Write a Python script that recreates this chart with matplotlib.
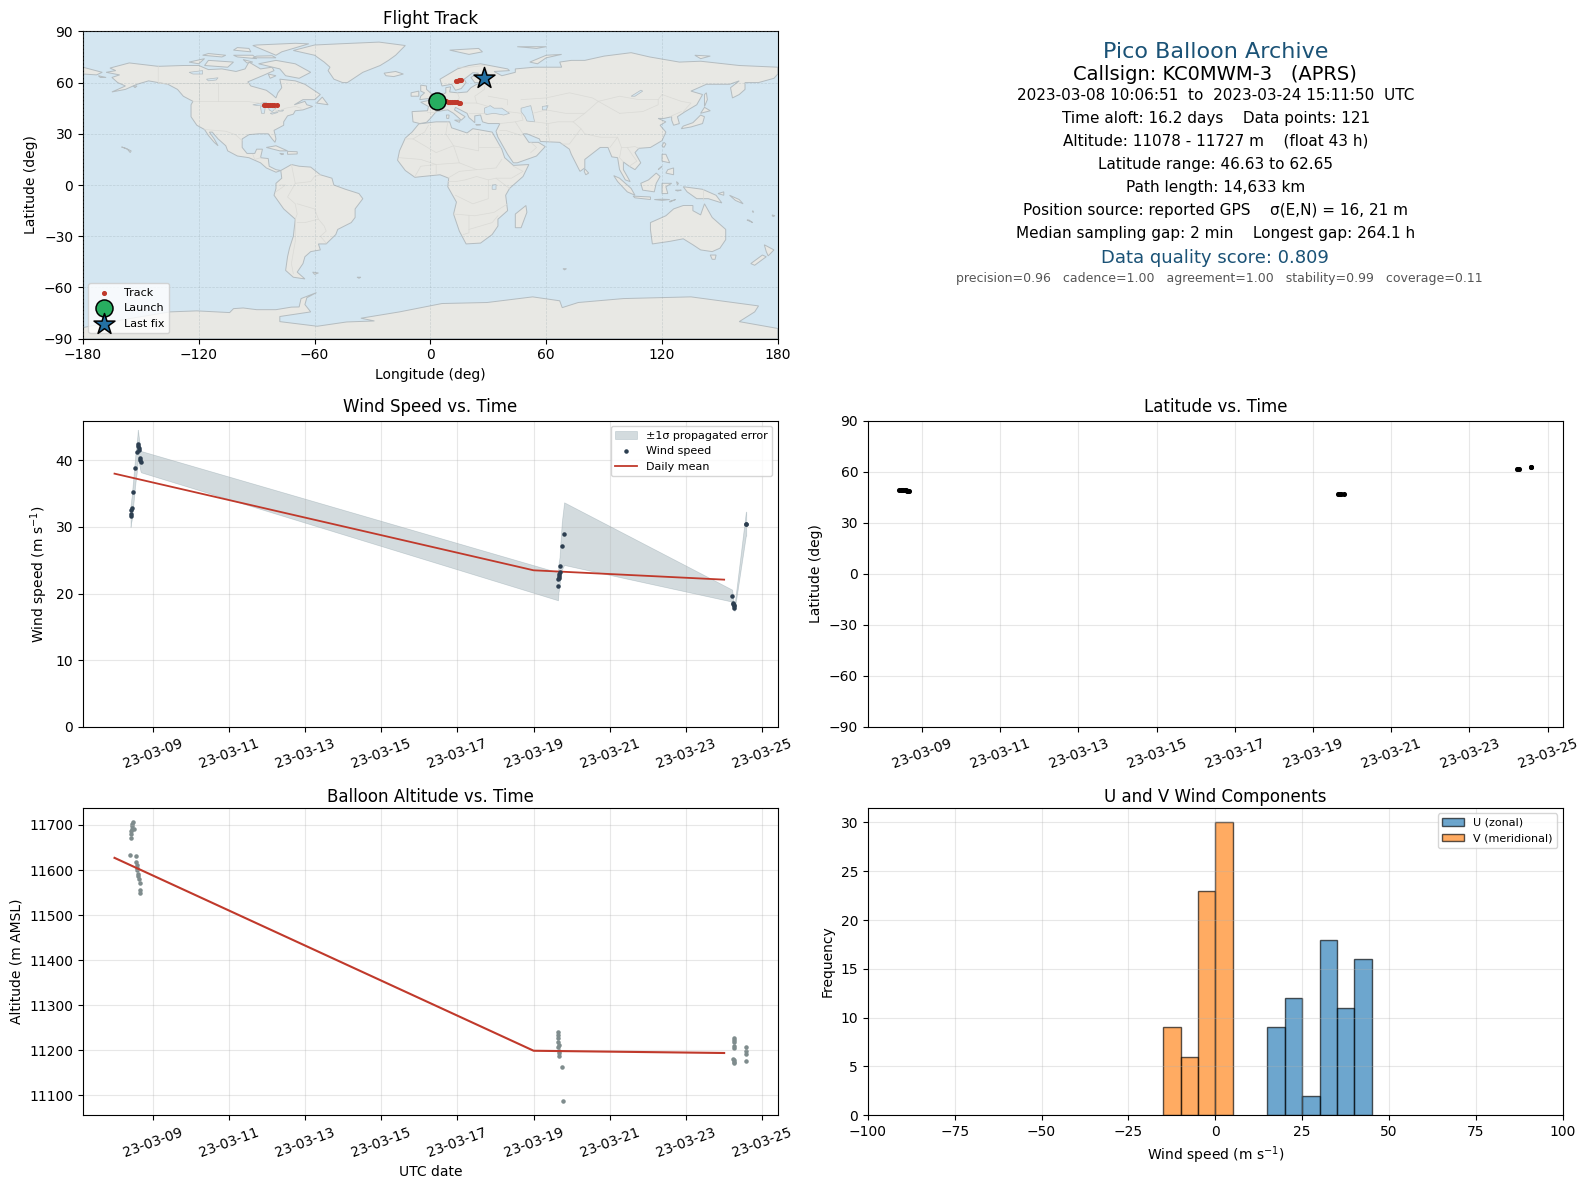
import matplotlib
matplotlib.use('Agg')
import matplotlib.pyplot as plt
import matplotlib.dates as mdates
import numpy as np
import pandas as pd

# day of March 2023 (fractional) for each sample
wind_day = [8.42, 8.43, 8.44, 8.45, 8.49, 8.55, 8.60, 8.61, 8.62, 8.63, 8.64, 8.67, 8.68, 8.695,
            19.64, 19.65, 19.655, 19.66, 19.67, 19.68, 19.69, 19.74, 19.80,
            24.21, 24.24, 24.245, 24.25, 24.26, 24.27, 24.57, 24.58]
wind_speed = [31.6, 32.0, 32.5, 32.8, 35.2, 38.9, 41.3, 42.4, 42.2, 41.8, 41.5, 40.3, 40.0, 39.8,
              21.1, 22.2, 22.4, 22.6, 22.9, 23.3, 24.2, 27.2, 29.0,
              19.7, 18.6, 18.4, 18.3, 18.1, 17.8, 30.5, 30.5]
wind_sigma = [1.6, 1.6, 1.7, 1.8, 2.0, 2.2, 2.4, 2.2, 2.1, 2.0, 1.9, 1.6, 1.6, 1.6,
              2.1, 2.1, 2.1, 2.2, 2.2, 2.2, 2.4, 3.6, 4.7,
              0.9, 0.5, 0.5, 0.4, 0.4, 0.4, 1.8, 1.8]

mean_day = [8.0, 19.0, 24.0]
mean_wind = [38.0, 23.5, 22.1]
mean_alt = [11627, 11199, 11194]

alt_day = [8.42, 8.43, 8.44, 8.45, 8.46, 8.47, 8.48, 8.50, 8.41, 8.57, 8.575, 8.58, 8.59, 8.60, 8.61,
           8.62, 8.64, 8.66, 8.68, 8.68,
           19.64, 19.65, 19.65, 19.64, 19.67, 19.65, 19.67, 19.67, 19.67, 19.74, 19.77,
           24.27, 24.27, 24.27, 24.27, 24.26, 24.24, 24.25, 24.25, 24.26,
           24.58, 24.57, 24.57, 24.58]
altitude = [11672, 11680, 11686, 11692, 11698, 11703, 11707, 11692, 11633, 11631, 11618, 11612, 11605, 11601, 11592,
            11586, 11579, 11572, 11555, 11550,
            11240, 11235, 11227, 11218, 11212, 11207, 11199, 11194, 11188, 11162, 11087,
            11227, 11222, 11218, 11209, 11204, 11181, 11179, 11175, 11171,
            11207, 11199, 11192, 11176]

lat_day = [8.42, 8.45, 8.48, 8.52, 8.55, 8.58, 8.62, 8.65, 8.675,
           19.64, 19.66, 19.68, 19.72, 19.80,
           24.21, 24.24, 24.27, 24.57, 24.58]
latitude = [49.4, 49.4, 49.4, 49.3, 49.2, 49.1, 48.8, 48.6, 48.6,
            46.7, 46.65, 46.63, 46.7, 46.8,
            61.3, 61.4, 61.3, 62.6, 62.65]

track_lon = [4, 6, 8, 9, 10, 11, 12, 13, 14, 15, 15.3,
             -86.4, -85.5, -84.5, -84, -83, -82, -81, -79.6,
             13.4, 14, 14.8, 15.5, 16.1]
track_lat = [49.1, 49.0, 49.0, 48.9, 48.9, 48.8, 48.8, 48.7, 48.5, 48.3, 48.2,
             46.7, 46.6, 46.7, 46.6, 46.7, 46.6, 46.7, 46.6,
             60.9, 61.1, 61.3, 61.5, 61.7]
launch_lon, launch_lat = [3.6], [49.1]
last_lon, last_lat = [27.8], [62.5]

hist_bins = list(range(-100, 105, 5))
u_counts = {15: 9, 20: 12, 25: 2, 30: 18, 35: 11, 40: 16}
v_counts = {-15: 9, -10: 6, -5: 23, 0: 30}

info_lines = [
    ("Pico Balloon Archive", 16, '#1a5276'),
    ("Callsign: KC0MWM-3   (APRS)", 14, 'black'),
    ("2023-03-08 10:06:51  to  2023-03-24 15:11:50  UTC", 11, 'black'),
    ("Time aloft: 16.2 days    Data points: 121", 11, 'black'),
    ("Altitude: 11078 - 11727 m    (float 43 h)", 11, 'black'),
    ("Latitude range: 46.63 to 62.65", 11, 'black'),
    ("Path length: 14,633 km", 11, 'black'),
    ("Position source: reported GPS    \u03c3(E,N) = 16, 21 m", 11, 'black'),
    ("Median sampling gap: 2 min    Longest gap: 264.1 h", 11, 'black'),
    ("Data quality score: 0.809", 13, '#1a5276'),
    ("precision=0.96   cadence=1.00   agreement=1.00   stability=0.99   coverage=0.11", 9, '#555555'),
]
info_y = [51, 74, 94, 117, 139, 163, 185, 208, 231, 255, 275]
info_x = [1202, 1201, 1202, 1202, 1202, 1202, 1202, 1202, 1202, 1201, 1205]

# rough coastlines, lon/lat
land = [
    [(-168,66),(-163,67),(-166,68.5),(-156,71.5),(-141,69.5),(-128,70),(-120,70),(-115,67.6),(-108,68),(-100.7,66.5),(-96,68),(-94,72),(-88,68),(-82,69),(-81,67),(-87,64),(-94.6,60.4),(-93,58),(-85,55.5),(-82,53),(-80,51),(-79,54),(-77,57),(-78,62),(-70,61),(-65,59),(-61,56),(-57,53),(-60,50),(-66,50),(-70.5,47),(-65,49),(-64,47),(-61,46),(-66,44),(-70,43.5),(-71,41.5),(-74,40.5),(-76,37),(-76,35),(-81,32),(-80,27),(-80.5,25),(-82,27),(-84,30),(-89,30),(-94,29.5),(-97.5,27),(-97.5,22),(-95,18.5),(-91,18.5),(-90,21),(-87,21),(-88,16),(-84,15.5),(-83.5,11),(-80,9),(-77.5,8.5),(-80,7.5),(-85,10),(-88,13),(-94,16),(-100,17),(-105,20),(-106,23),(-110,27),(-113,31),(-114.5,31),(-112,27),(-110,23),(-112,25),(-115,29),(-117,32.5),(-121,35),(-124,40),(-124,47),(-123,49),(-128,52),(-131,56),(-136,59),(-146,61),(-152,59),(-158,56),(-165,54.5),(-158,58),(-162,60),(-165,63),(-161,64.5)],
    [(-77.5,8.5),(-72,12),(-68,11),(-62,10.5),(-57,6),(-51,4),(-50,0),(-44,-2.5),(-37,-5),(-35,-8),(-39,-14),(-39,-19),(-41,-22),(-48,-26),(-49,-29),(-54,-34.5),(-58,-34.5),(-57,-38),(-62,-39),(-65,-42),(-66,-46),(-69,-51),(-65,-55),(-71,-54),(-75,-50),(-74,-42),(-73,-37),(-71,-30),(-70,-20),(-76,-14),(-81,-6),(-80,-2),(-80,1),(-77,4)],
    [(-6,35.8),(3,37),(10,37),(11,33.5),(19,30.5),(22,33),(32,31),(32.5,30),(34,27),(37,21),(38.5,16),(43,11.5),(51,12),(48,5),(41,-2),(39,-6),(40,-15),(35,-20),(35,-24),(32,-29),(26,-34),(18.5,-34.5),(15,-27),(12,-17),(13.5,-10),(9,-1),(9.5,4),(5,6),(-4,5),(-8,4.5),(-13,8.5),(-17,14.5),(-16,20),(-13,27.5),(-9.5,31)],
    [(-9,37),(-9.5,43),(-1.5,43.5),(-1,46),(-5,48.5),(1,50),(4,52),(8,54),(8,57),(10.5,57.5),(10,54.5),(14,54),(19,54.5),(21,57),(24,59),(30,60),(23,60),(21,63),(25,65.5),(22,65.8),(17.5,62),(18.5,60),(16,56.5),(13,55.5),(11,59),(6,58),(5,62),(14,68),(20,70),(26,71),(40,68),(41,67),(33,66.5),(37,64),(44,66),(44,68),(54,69),(68,69),(67,72),(73,73),(80,73),(90,75.5),(104,77.5),(113.6,75),(129,72),(140,72.5),(160,70),(180,69),(180,65),(178,62.5),(170,60),(163,60),(163,56),(160,53),(156.5,51),(155.5,57),(160,61),(155,59),(143,59),(135,55),(141,53),(138,47),(132,43),(128,40),(129,36),(126,35),(125,38),(125,40),(121,39),(118,39),(122,37),(119,35),(122,31),(120,26),(114,22),(108,21.5),(106,19),(109,13),(106,9),(103,11),(100,13.5),(100,9),(103.5,2),(101,3),(98,9),(97,16),(94,16.5),(92,22),(88,22),(80,15),(80,10),(77.5,8),(73,18),(72,21),(67,25),(57,25.5),(56.5,27),(50,30),(48,30),(51,25),(56,25),(59.5,22.5),(55,17),(45,13),(43,13),(40,18),(37,24),(35,28),(34,31.5),(36,36),(30,36),(27,37),(26.5,39),(26,41),(23,40.5),(23,36.5),(20,39.5),(19,42),(13,45.5),(12.5,44),(18,40),(16,38),(12,42),(9,44),(3,43),(0,39),(-2,36.7),(-5.5,36)],
    # antarctica
    [(-180,-83.5),(-160,-79),(-135,-74.3),(-121,-73.7),(-104,-74.7),(-102,-72.4),(-97,-72),(-90,-73),(-80,-73),(-72,-71.5),(-68,-71.4),(-67,-66.5),(-59,-63),(-64,-66),(-65,-70),(-62,-74.3),(-78,-77),(-78,-80),(-58.6,-82.7),(-43.4,-80.2),(-29,-79.6),(-36,-78),(-16,-74.3),(6,-69.4),(29.4,-68.8),(53,-65.5),(67,-67.8),(68.3,-71.8),(76.6,-68.8),(100,-66.5),(135,-65.5),(170,-70.8),(168,-74.3),(160,-80),(180,-84),(180,-90),(-180,-90)],
    # greenland and arctic islands
    [(-71,78.8),(-60,82),(-47,82.7),(-26.6,83.7),(-13,81.7),(-18,76),(-21.7,73),(-26,70),(-35,66),(-43,60),(-45.5,60),(-50,62),(-53,67),(-52,69),(-55,72),(-60,76)],
    [(-80,73),(-70,71),(-62,66),(-68,62.5),(-75,64),(-78,68),(-89,71)],
    [(-117,70),(-105,69),(-102,72),(-115,73)],
    [(-125,72),(-117,74),(-120,71)],
    [(-92,81.7),(-80,76),(-77,78),(-63,82.7),(-70,83),(-90,82)],
    [(-100,75),(-90,74),(-92,76),(-102,76)],
    [(-118,76),(-108,75),(-106,76),(-115,77)],
    [(-102,79),(-93,78),(-94,80),(-100,80.5)],
    [(-80,74.5),(-92,74.5),(-90,75.5),(-82,75.7)],
    [(-97,73.5),(-92,72),(-95,71.5)],
    [(-84,65),(-80,64),(-83,62.5)],
    [(-59,48),(-56,51.5),(-53,47)],
    [(-180,69),(-170,66),(-173,64.5),(-180,65)],
    [(-85,22),(-80,23),(-74,20),(-78,20)],
    [(-74,19.7),(-69,19.5),(-69,18.2),(-74,18)],
    [(-78,18.5),(-76,18.2),(-77,17.8)],
    [(-160,22.3),(-158,21.6),(-155,20),(-155.5,19),(-157,21)],
    [(-24,65.5),(-18,66.5),(-14,65),(-19,63.5),(-23,64)],
    [(-5.5,50),(1,51),(1,53),(-2,56),(-2,58),(-5,58.5),(-5,55),(-3,54),(-5,52)],
    [(-10,52),(-6,52),(-6,55),(-10,54)],
    [(10,79),(25,80),(27,78),(20,76.5)],
    [(45,81),(60,81),(55,80)],
    [(51.5,72),(55.5,71),(60,74.5),(68,76.5),(60,76)],
    [(137,76),(145,75.5),(140,74)],
    [(12.5,38),(15.5,38),(15,36.7)],
    [(8.3,41),(9.7,41),(9.5,39),(8.5,39)],
    [(23.5,35.5),(26,35.3),(24,35)],
    [(130,33),(135,34),(141,36),(142,40),(140,41),(136,36.5),(131,34.5)],
    [(140,42),(145,43.5),(142,45.5)],
    [(142,46),(143.5,50),(143,54),(142,53)],
    [(120,23),(121,25),(122,24),(121,22)],
    [(120,18),(122,18),(124,13),(120,14)],
    [(122,7),(126,6),(126,10),(123,9)],
    [(118,9),(120,11),(119,10)],
    [(80,9.5),(82,7),(80.5,6),(79.7,8)],
    [(95,5.5),(98,4),(104,-2),(106,-6),(102,-4),(97,2)],
    [(105,-6.5),(114,-7),(114,-8.5),(106,-7.5)],
    [(116,-8.5),(120,-8.3),(124,-8.5),(120,-9)],
    [(124,-9.5),(127,-8.5),(124,-10)],
    [(109,1),(113,3),(117,7),(119,5),(117,1),(116,-4),(110,-3)],
    [(120,1),(125,1),(122,-1),(123,-5),(120,-5)],
    [(127.5,2),(128.5,1),(128,0)],
    [(127,-3),(130,-3),(128,-3.5)],
    [(131,-1),(141,-2.5),(148,-6),(151,-10.5),(144,-8),(138,-8),(133,-4)],
    [(149,-5),(152,-4),(152,-6)],
    [(155,-6),(160,-8.5),(162,-11),(158,-9)],
    [(165,-20.5),(167,-22),(164,-20.5)],
    [(177,-17.5),(178.5,-18),(177.5,-18.5)],
    [(167,-15),(167.5,-16),(166.8,-15.7)],
    [(114,-22),(122,-18),(126,-14),(131,-12),(136,-12),(136,-15),(140,-17.5),(142,-11),(146,-19),(153,-26),(153,-32),(150,-37),(146,-39),(140,-38),(136,-35),(131,-31.5),(124,-33),(115,-34.5),(114,-26)],
    [(145,-41),(148,-41),(147.5,-43.5),(146,-43.5)],
    [(173,-35),(178,-38),(175,-41.5),(174,-39)],
    [(172,-41),(174,-42),(168,-47),(166,-46)],
    [(49.5,-12),(50,-16),(47,-25),(44,-25),(44,-17)],
    [(68.7,-49),(70.5,-49),(69.5,-49.7)],
    [(-61,-51),(-58,-51.5),(-60,-52.3)],
    [(-38,-54),(-36,-54),(-37,-54.6)],
    [(-172,64),(-168,63),(-171,63)],
    [(-154,58),(-152,58),(-153,57)],
]
water = [
    [(28,42),(28,45),(31,46.5),(33,45),(37,45),(41,42),(38,41),(33,42),(29,41.3)],
    [(47,45),(52,46.5),(53,42),(54,37),(50,37.5),(49,40),(47,43)],
    [(58,46),(61,46.5),(60,44),(58,44)],
    [(-92,47),(-85,48.5),(-85,47),(-90,46.6)],
    [(-88,46),(-85.5,46),(-86,42),(-87.5,42)],
    [(-84,46),(-80,45),(-82,43),(-83.5,44)],
    [(-83,42),(-79,43),(-79,42.5),(-82,41.5)],
    [(-79,43.5),(-76,44),(-76.5,43.3),(-79,43.2)],
    [(-125,66),(-118,67),(-118,65),(-123,65)],
    [(-116,62),(-110,62.8),(-111,61.5),(-115,61)],
    [(104,52),(109,55.5),(110,55),(106,52)],
    [(32,0),(34,0.3),(34,-2.5),(32,-2.5)],
]
borders = [
    [(-123,49),(-95,49),(-89,48),(-83,46),(-79,43),(-75,45),(-70,46),(-67,45)],
    [(-141,70),(-141,60),(-136,59)],
    [(-117,32.5),(-106,31.5),(-101,29.5),(-97.5,26)],
    [(-92,18),(-91,15),(-88,16)],
    [(-72,12),(-70,1),(-74,-7),(-70,-11),(-69,-17),(-70,-20)],
    [(-70,1),(-62,2),(-60,5),(-57,6)],
    [(-69,-11),(-60,-14),(-58,-20),(-55,-24),(-54,-27),(-57,-30),(-54,-34)],
    [(-69,-22),(-65,-22),(-58,-20)],
    [(-70,-20),(-70,-33),(-72,-46),(-71,-52)],
    [(-78,0),(-75,0),(-80,-4)],
    [(-9,27),(-3,31),(-1,35)],
    [(-13,27),(-9,27),(3,19),(12,23),(25,20),(25,31)],
    [(9,37),(8,30),(12,23),(15,13),(24,9),(34,10),(37,15)],
    [(25,22),(36,22)],
    [(-16,16),(-5,15),(3,12),(15,13)],
    [(-8,5),(-5,11),(3,12),(3,6)],
    [(9,4),(15,8),(24,9)],
    [(13,-6),(22,-11),(30,-8),(30,3),(34,4),(41,-2)],
    [(30,3),(24,5),(18,3),(13,2),(9,2)],
    [(12,-17),(23,-18),(33,-16),(40,-11)],
    [(20,-18),(20,-28),(17,-29)],
    [(20,-26),(26,-24),(32,-22),(35,-18)],
    [(34,4),(42,4),(48,8),(43,11)],
    [(2,51),(6,50),(8,48),(7,44)],
    [(-2,43),(3,43)],
    [(7,54),(6,50)],
    [(14,54),(15,51),(13,48),(17,48),(24,48),(30,46)],
    [(24,48),(23,52),(28,56),(28,60)],
    [(20,42),(29,42)],
    [(12,47),(7,46),(8,44)],
    [(14,69),(20,69),(28,70),(30,65),(28,60)],
    [(30,52),(40,50),(40,47)],
    [(40,43),(47,42),(48,38),(44,37),(36,36)],
    [(44,37),(48,30)],
    [(36,32),(39,32),(47,29)],
    [(52,19),(55,22),(52,25)],
    [(47,50),(60,51),(72,54),(84,51),(87,49)],
    [(53,42),(60,44),(70,42),(80,42),(87,49)],
    [(54,37),(61,36),(61,30),(62,25)],
    [(61,36),(66,37),(74,37),(78,33),(72,24),(68,24)],
    [(78,33),(80,30),(88,28),(97,28),(93,22)],
    [(80,42),(74,37)],
    [(87,49),(98,52),(108,50),(118,50),(120,53),(130,49),(135,48),(131,43)],
    [(98,42),(110,43),(118,47),(118,50)],
    [(87,49),(98,42)],
    [(97,28),(99,22),(102,22),(106,22.5),(108,21.5)],
    [(99,22),(98,16),(100,13.5)],
    [(102,22),(105,17),(107,14),(103,11)],
    [(124,40),(128,42),(130,43)],
    [(141,-2.5),(141,-9)],
    [(-141,60),(-120,60),(-102,60),(-94,60)],
    [(-120,60),(-120,49)],
    [(-110,60),(-110,49)],
]

land_color = '#e8e8e4'
ocean_color = '#d4e6f1'
coast_color = '#b4bcc0'
red = '#c0392b'
navy = '#2c3e50'
slate = '#7f8c8d'

W, H = 1568.0, 1176.0


def make_axes(x0, y0, x1, y1):
    return fig.add_axes([x0 / W, 1 - y1 / H, (x1 - x0) / W, (y1 - y0) / H])


def to_dates(days):
    return pd.Timestamp('2023-03-01') + pd.to_timedelta(np.array(days) - 1, unit='D')


def date_axis(ax):
    ax.xaxis.set_major_locator(mdates.DayLocator(bymonthday=range(9, 27, 2)))
    ax.xaxis.set_major_formatter(mdates.DateFormatter('%y-%m-%d'))
    ax.tick_params(axis='x', rotation=20)
    ax.grid(True, alpha=0.3)


fig = plt.figure(figsize=(15.86, 11.89), dpi=100)

# flight track
ax = make_axes(82, 31, 769, 335)
ax.set_facecolor(ocean_color)
for poly in land:
    xs, ys = zip(*poly)
    ax.fill(xs, ys, facecolor=land_color, edgecolor=coast_color, linewidth=0.7, zorder=1)
for poly in water:
    xs, ys = zip(*poly)
    ax.fill(xs, ys, facecolor=ocean_color, edgecolor=coast_color, linewidth=0.5, zorder=1.1)
for line in borders:
    xs, ys = zip(*line)
    ax.plot(xs, ys, color='#dadad6', linewidth=0.5, zorder=1.2)
ax.grid(True, color='#8899a0', alpha=0.3, linestyle='--', linewidth=0.5, zorder=1.5)
ax.set_axisbelow(False)
ax.scatter(track_lon, track_lat, s=7, color=red, label='Track', zorder=3)
ax.scatter(launch_lon, launch_lat, s=150, color='#27ae60', edgecolor='black', linewidth=1.1, label='Launch', zorder=4)
ax.scatter(last_lon, last_lat, s=250, marker='*', color='#2471a3', edgecolor='black', linewidth=1.1, label='Last fix', zorder=5)
ax.set_xlim(-180, 180)
ax.set_ylim(-90, 90)
ax.set_xticks(range(-180, 181, 60))
ax.set_yticks(range(-90, 91, 30))
ax.set_xlabel('Longitude (deg)')
ax.set_ylabel('Latitude (deg)')
ax.set_title('Flight Track', pad=5)
ax.legend(loc='lower left', fontsize=8)

# summary text
for (txt, size, col), x, y in zip(info_lines, info_x, info_y):
    fig.text(x / W, 1 - y / H, txt, fontsize=size, color=col, ha='center', va='center')

# wind speed
ax = make_axes(82, 416, 769, 719)
wt = to_dates(wind_day)
w = np.array(wind_speed)
s = np.array(wind_sigma)
ax.fill_between(wt, w - s, w + s, color='#5d7a85', alpha=0.27, linewidth=0.5, label='\u00b11\u03c3 propagated error')
ax.scatter(wt, w, s=5, color=navy, label='Wind speed', zorder=3)
ax.plot(to_dates(mean_day), mean_wind, color=red, linewidth=1.3, label='Daily mean')
ax.set_ylim(bottom=0)
ax.set_ylabel('Wind speed (m s$^{-1}$)')
ax.set_title('Wind Speed vs. Time')
ax.legend(loc='upper right', fontsize=8)
date_axis(ax)

# latitude
ax = make_axes(858, 416, 1545, 719)
ax.scatter(to_dates(lat_day), latitude, s=7, color='black')
ax.set_ylim(-90, 90)
ax.set_yticks(range(-90, 91, 30))
ax.set_ylabel('Latitude (deg)')
ax.set_title('Latitude vs. Time')
date_axis(ax)

# altitude
ax = make_axes(82, 799, 769, 1103)
ax.scatter(to_dates(alt_day), altitude, s=5, color=slate)
ax.plot(to_dates(mean_day), mean_alt, color=red, linewidth=1.5)
ax.set_ylabel('Altitude (m AMSL)')
ax.set_xlabel('UTC date', labelpad=4)
ax.set_title('Balloon Altitude vs. Time', pad=4)
date_axis(ax)

# wind components
ax = make_axes(858, 799, 1545, 1103)
u_left = list(u_counts.keys())
v_left = list(v_counts.keys())
ax.bar(u_left, list(u_counts.values()), width=5, align='edge', color='#1f77b4', alpha=0.65,
       edgecolor='black', linewidth=1, label='U (zonal)')
ax.bar(v_left, list(v_counts.values()), width=5, align='edge', color='#ff7f0e', alpha=0.65,
       edgecolor='black', linewidth=1, label='V (meridional)')
ax.set_xlim(hist_bins[0], hist_bins[-1])
ax.set_xlabel('Wind speed (m s$^{-1}$)', labelpad=4)
ax.set_ylabel('Frequency')
ax.set_title('U and V Wind Components', pad=4)
ax.legend(loc='upper right', fontsize=8)
ax.grid(True, alpha=0.3)

fig.savefig('out.png', dpi=100)
